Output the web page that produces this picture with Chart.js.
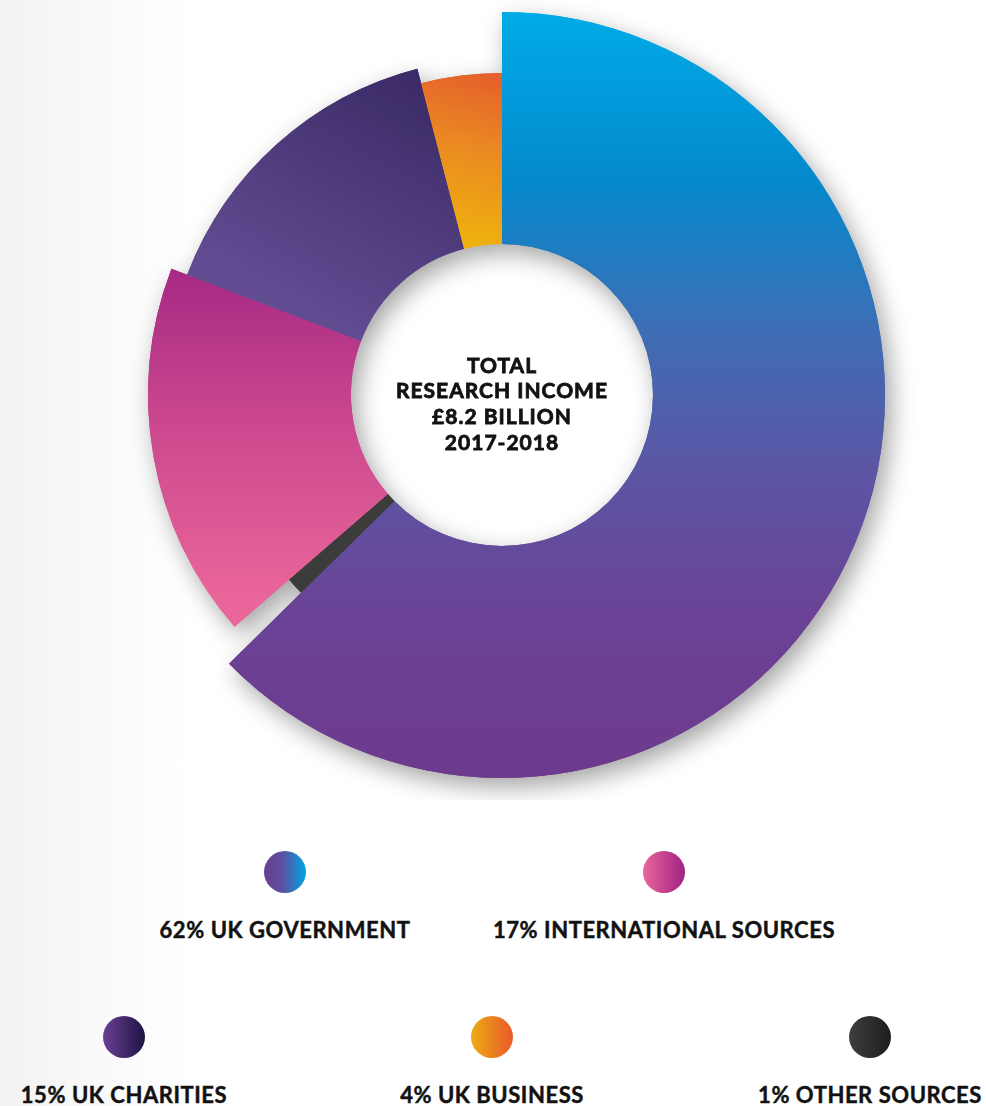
<!DOCTYPE html>
<html>
<head>
<meta charset="utf-8">
<script src="https://cdn.jsdelivr.net/npm/chart.js"></script>
<style>
  html, body { margin: 0; padding: 0; }
  body {
    width: 986px; height: 1106px; overflow: hidden; position: relative;
    background: linear-gradient(to right, #f2f2f2 0, #f9f9f9 90px, #fff 190px);
    font-family: Lato, sans-serif;
  }
  #wrap { position: absolute; left: 0; top: 0; width: 986px; height: 800px; }
  .dot { position: absolute; width: 42px; height: 42px; border-radius: 50%; }
  .lab {
    position: absolute; width: 500px; text-align: center; white-space: nowrap;
    font-weight: 700; font-size: 22px; line-height: 22px; color: #121212; letter-spacing: 0.55px;
    -webkit-text-stroke: 0.45px #121212;
  }
</style>
</head>
<body>
<div id="wrap"><canvas id="donut"></canvas></div>
<div id="legend"></div>
<script>
/* data, in the order the slices run clockwise from 12 o'clock */
var labels = ['UK GOVERNMENT', 'OTHER SOURCES', 'INTERNATIONAL SOURCES', 'UK CHARITIES', 'UK BUSINESS'];
var shares = [62, 1, 17, 15, 4];
var legendOrder = [0, 2, 3, 4, 1];
var centerLines = ['TOTAL', 'RESEARCH INCOME', '£8.2 BILLION', '2017-2018'];

/* styling */
var ringReach = [1, 0.736, 0.924, 0.88, 0.841];   // outer radius of each slice, share of the biggest
var sliceGrads = [
  { from: [0, -1], to: [0, 1], stops: [[0, '#00abe8'], [0.22, '#0489cc'], [0.42, '#3f6db5'], [0.6, '#5c55a4'], [0.78, '#6a4396'], [1, '#6d3a8d']] },
  { from: [-0.55, 0.45], to: [-0.7, 0.3], stops: [[0, '#3c3c3b'], [1, '#222']] },
  { from: [0, -0.42], to: [0, 0.52], stops: [[0, '#9e2281'], [0.5, '#c9468e'], [1, '#e9659a']] },
  { from: [-0.22, -0.85], to: [-0.55, -0.25], stops: [[0, '#3a2a66'], [1, '#614b91']] },
  { from: [0, -0.83], to: [-0.1, -0.4], stops: [[0, '#e5602b'], [0.45, '#ea8a22'], [1, '#efb10e']] }
];
var dotFills = [
  'linear-gradient(to right, #6b3d91 0%, #5b52a2 45%, #3474bd 68%, #00a6e3 100%)',
  'linear-gradient(to right, #3e3e3e, #1d1d1d)',
  'linear-gradient(to right, #e9669b, #9f2280)',
  'linear-gradient(to right, #6b3e93, #1e1445)',
  'linear-gradient(to right, #ebab12, #ea5a2b)'
];
var legendSlots = [[285, 872], [664, 872], [124, 1037], [492, 1037], [870, 1037]];

function sliceFill(context) {
  var chart = context.chart, area = chart.chartArea, g = sliceGrads[context.dataIndex];
  if (!area) return g.stops[0][1];
  var cx = (area.left + area.right) / 2, cy = (area.top + area.bottom) / 2;
  var R = Math.min(area.width, area.height) / 2;
  var grad = chart.ctx.createLinearGradient(cx + g.from[0] * R, cy + g.from[1] * R, cx + g.to[0] * R, cy + g.to[1] * R);
  g.stops.forEach(function (s) { grad.addColorStop(s[0], s[1]); });
  return grad;
}

// each slice gets its own outer radius
var reachPlugin = {
  id: 'reach',
  afterDatasetsUpdate: function (chart) {
    chart.getDatasetMeta(0).data.forEach(function (arc, i) {
      arc.outerRadius = arc.outerRadius * ringReach[i];
    });
  }
};

// soft drop shadow, drawn first so it only lands on the page
var shadowPlugin = {
  id: 'shadow',
  beforeDatasetsDraw: function (chart) {
    var ctx = chart.ctx;
    ctx.save();
    ctx.shadowColor = 'rgba(0,0,0,0.36)';
    ctx.shadowBlur = 24;
    ctx.shadowOffsetX = 6;
    ctx.shadowOffsetY = 9;
    chart.getDatasetMeta(0).data.forEach(function (arc) { arc.draw(ctx); });
    ctx.restore();
  }
};

var centerText = {
  id: 'centerText',
  afterDatasetsDraw: function (chart) {
    var arc = chart.getDatasetMeta(0).data[0], ctx = chart.ctx;
    ctx.save();
    ctx.font = '700 21px Lato';
    ctx.letterSpacing = '1px';
    ctx.fillStyle = '#121212';
    ctx.strokeStyle = '#121212';
    ctx.lineWidth = 0.8;
    ctx.textAlign = 'center';
    ctx.textBaseline = 'middle';
    centerLines.forEach(function (t, k) {
      var y = arc.y - 29 + k * 25.7;
      ctx.fillText(t, arc.x, y);
      ctx.strokeText(t, arc.x, y);
    });
    ctx.restore();
  }
};

new Chart(document.getElementById('donut'), {
  type: 'doughnut',
  data: {
    labels: labels,
    datasets: [{ data: shares, backgroundColor: sliceFill, borderWidth: 0 }]
  },
  options: {
    responsive: true,
    maintainAspectRatio: false,
    animation: false,
    events: [],
    cutout: 151,
    layout: { padding: { left: 119, right: 101, top: 12, bottom: 22 } },
    plugins: { legend: { display: false }, tooltip: { enabled: false } }
  },
  plugins: [reachPlugin, shadowPlugin, centerText]
});

/* html legend */
var legend = document.getElementById('legend');
legendOrder.forEach(function (i, k) {
  var x = legendSlots[k][0], y = legendSlots[k][1];
  var dot = document.createElement('div');
  dot.className = 'dot';
  dot.style.left = (x - 21) + 'px';
  dot.style.top = (y - 21) + 'px';
  dot.style.background = dotFills[i];
  legend.appendChild(dot);
  var lab = document.createElement('div');
  lab.className = 'lab';
  lab.style.left = (x - 250) + 'px';
  lab.style.top = (y + 47) + 'px';
  lab.textContent = shares[i] + '% ' + labels[i];
  legend.appendChild(lab);
});
</script>
</body>
</html>
